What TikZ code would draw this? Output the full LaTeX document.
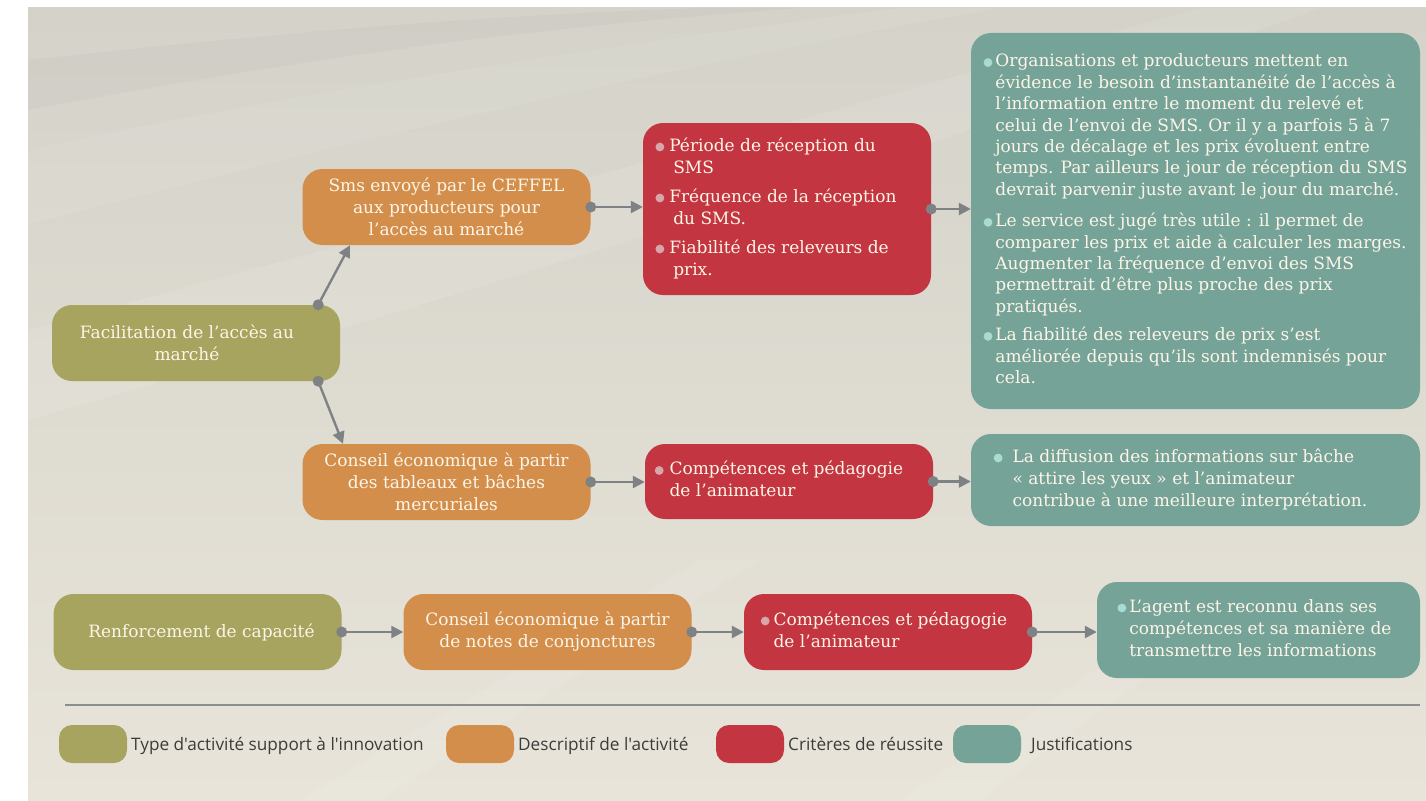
\documentclass[tikz,border=0pt]{standalone}
\usepackage{fontspec}
\setmainfont{DejaVu Serif}
\newfontfamily\legfont{Open Sans}
\usetikzlibrary{arrows.meta,calc}
\definecolor{cOlive}{HTML}{A6A45F}
\definecolor{cOrange}{HTML}{D38E4B}
\definecolor{cRed}{HTML}{C33641}
\definecolor{cTeal}{HTML}{76A398}
\definecolor{cLine}{HTML}{7E8284}
\definecolor{cBulR}{HTML}{D8A5AA}
\definecolor{cBulT}{HTML}{A9DCD0}
\definecolor{cTxt}{HTML}{FDF5E8}
\definecolor{cBgA}{HTML}{D4D2C9}
\definecolor{cBgB}{HTML}{E8E4D9}
\definecolor{cLeg}{HTML}{3C3C3A}
\newcommand{\bl}[1]{\tikz[baseline=-0.5ex]\fill[#1] (0,0) circle (4.4pt);}
\begin{document}
\begin{tikzpicture}[x=1pt,y=-1pt,
  box/.style={rounded corners=20pt, inner sep=0pt, text=cTxt,
    font=\fontsize{17}{22}\selectfont, align=center,
    minimum width=288pt, minimum height=76pt},
  conn/.style={draw=cLine, line width=2.4pt, -{Triangle[length=12pt,width=12pt]}},
  swatch/.style={rounded corners=13pt, minimum width=68pt, minimum height=38pt, inner sep=0pt},
  legtext/.style={font=\legfont\fontsize{17.2}{20}\selectfont, text=cLeg, anchor=base west, inner sep=0pt}]
\useasboundingbox (0,0) rectangle (1426,800);
\fill[white] (0,0) rectangle (1426,800);
\shade[top color=cBgA, bottom color=cBgB] (28,8) rectangle (1426,800);
% faint swooshes
\begin{scope}
\clip (28,8) rectangle (1426,800);
\fill[white,opacity=0.07] (28,150) .. controls (300,90) and (650,40) .. (900,8) -- (1000,8) .. controls (700,60) and (350,140) .. (28,225) -- cycle;
\fill[white,opacity=0.09] (28,330) .. controls (400,230) and (800,120) .. (1200,8) -- (1320,8) .. controls (900,160) and (450,300) .. (28,420) -- cycle;
\fill[black,opacity=0.02] (28,60) .. controls (300,30) and (500,15) .. (700,8) -- (800,8) .. controls (500,30) and (300,60) .. (28,110) -- cycle;
\fill[white,opacity=0.08] (300,800) -- (700,560) -- (760,560) -- (380,800) -- cycle;
\fill[white,opacity=0.08] (900,800) -- (1200,600) -- (1250,600) -- (980,800) -- cycle;
\end{scope}

% nodes
\node[box, fill=cOlive] (fac) at (196,343) {Facilitation de l’accès au\hspace*{18pt}\\marché\hspace*{18pt}};
\node[box, fill=cOrange] (sms) at (446.5,207) {Sms envoyé par le CEFFEL\\aux producteurs pour\\l’accès au marché};
\node[box, fill=cRed, minimum height=172pt] (crit1) at (787,209) {\begin{tabular}{@{}l@{\hspace{5pt}}l@{\hspace{22pt}}}
\bl{cBulR} & Période de réception du\\
 & \hspace{4pt}SMS\\[7pt]
\bl{cBulR} & Fréquence de la réception\\
 & \hspace{4pt}du SMS.\\[7pt]
\bl{cBulR} & Fiabilité des releveurs de\\
 & \hspace{4pt}prix.
\end{tabular}};
\node[box, fill=cTeal, minimum width=449pt, minimum height=376pt, font=\fontsize{17}{21.4}\selectfont] (just1) at (1195.5,221) {\begin{tabular}{@{}l@{\hspace{3pt}}l@{}}
\bl{cBulT} & Organisations et producteurs mettent en\\
 & évidence le besoin d’instantanéité de l’accès à\\
 & l’information entre le moment du relevé et\\
 & celui de l’envoi de SMS. Or il y a parfois 5 à 7\\
 & jours de décalage et les prix évoluent entre\\
 & temps. Par ailleurs le jour de réception du SMS\\
 & devrait parvenir juste avant le jour du marché.\\[10pt]
\bl{cBulT} & Le service est jugé très utile : il permet de\\
 & comparer les prix et aide à calculer les marges.\\
 & Augmenter la fréquence d’envoi des SMS\\
 & permettrait d’être plus proche des prix\\
 & pratiqués.\\[7pt]
\bl{cBulT} & La fiabilité des releveurs de prix s’est\\
 & améliorée depuis qu’ils sont indemnisés pour\\
 & cela.
\end{tabular}};
\node[box, fill=cOrange] (cons1) at (446.5,482) {Conseil économique à partir\\des tableaux et bâches\\mercuriales};
\node[box, fill=cRed, minimum height=75pt] (crit2) at (789,481.5) {\begin{tabular}{@{}l@{\hspace{6pt}}l@{\hspace{20pt}}}
\bl{cBulR} & Compétences et pédagogie\\
 & de l’animateur
\end{tabular}};
\node[box, fill=cTeal, minimum width=449pt, minimum height=92pt] (just2) at (1195.5,480) {\begin{tabular}{@{}l@{\hspace{10pt}}l@{\hspace{30pt}}}
\bl{cBulT} & La diffusion des informations sur bâche\\
 & « attire les yeux » et l’animateur\\
 & contribue à une meilleure interprétation.
\end{tabular}};
\node[box, fill=cOlive] (renf) at (197.5,632) {\hspace*{8pt}Renforcement de capacité};
\node[box, fill=cOrange] (cons2) at (547.5,632) {Conseil économique à partir\\de notes de conjonctures};
\node[box, fill=cRed] (crit3) at (888,632) {\begin{tabular}{@{}l@{\hspace{4pt}}l@{\hspace{8pt}}}
\bl{cBulR} & Compétences et pédagogie\\
 & de l’animateur
\end{tabular}};
\node[box, fill=cTeal, minimum width=323pt, minimum height=96pt] (just3) at (1258.5,630) {\begin{tabular}{@{}l@{\hspace{3pt}}l@{\hspace{8pt}}}
\bl{cBulT} & L’agent est reconnu dans ses\\
 & compétences et sa manière de\\
 & transmettre les informations
\end{tabular}};

% connectors
\coordinate (s1) at ([xshift=-22pt]fac.north east);
\coordinate (e1) at ([xshift=-96.5pt]sms.south);
\coordinate (s2) at ([xshift=-22pt]fac.south east);
\coordinate (e2) at ([xshift=-103.5pt]cons1.north);
\draw[conn] (s1) -- (e1);
\fill[cLine] (s1) circle (5.5pt);
\draw[conn] (s2) -- (e2);
\fill[cLine] (s2) circle (5.5pt);
\foreach \a/\b in {sms/crit1, crit1/just1, cons1/crit2, crit2/just2, renf/cons2, cons2/crit3, crit3/just3} {
  \draw[conn] (\a.east) -- (\a.east -| \b.west);
  \fill[cLine] (\a.east) circle (5.5pt);
}

% legend
\draw[draw=cLine!90, line width=1.2pt] (65,705) -- (1420,705);
\node[swatch, fill=cOlive] (l1) at (93,744) {};
\node[legtext] at (131,750) {Type d'activité support à l'innovation};
\node[swatch, fill=cOrange] (l2) at (480,744) {};
\node[legtext] at (518,750) {Descriptif de l'activité};
\node[swatch, fill=cRed] (l3) at (750,744) {};
\node[legtext] at (788,750) {Critères de réussite};
\node[swatch, fill=cTeal] (l4) at (987,744) {};
\node[legtext] at (1031,750) {Justifications};
\end{tikzpicture}
\end{document}
